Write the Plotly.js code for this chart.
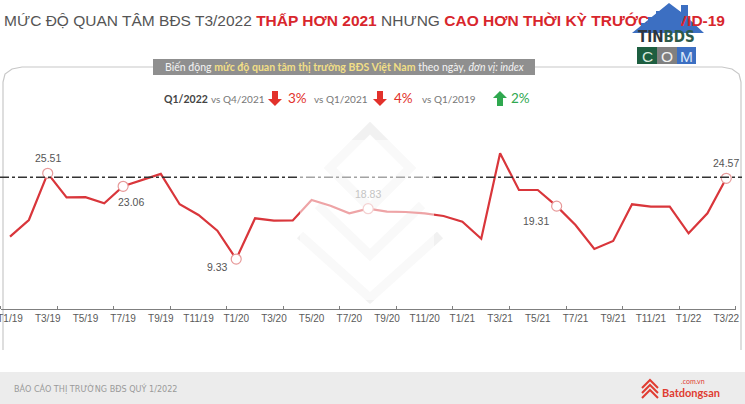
<!DOCTYPE html>
<html>
<head>
<meta charset="utf-8">
<script src="https://cdn.plot.ly/plotly-3.0.1.min.js"></script>
<style>html,body{margin:0;padding:0;background:#fff;}#chart{width:745px;height:404px;}</style>
</head>
<body>
<div id="chart"></div>
<script>
// ---- data ----
const months = ["T1/19","T2/19","T3/19","T4/19","T5/19","T6/19","T7/19","T8/19","T9/19","T10/19","T11/19","T12/19",
  "T1/20","T2/20","T3/20","T4/20","T5/20","T6/20","T7/20","T8/20","T9/20","T10/20","T11/20","T12/20",
  "T1/21","T2/21","T3/21","T4/21","T5/21","T6/21","T7/21","T8/21","T9/21","T10/21","T11/21","T12/21",
  "T1/22","T2/22","T3/22"];
const interestIndex = [13.55,16.70,25.51,20.98,21.00,19.85,23.06,24.20,25.40,19.66,17.64,14.68,
  9.33,17.02,16.57,16.60,20.47,19.40,17.96,18.83,18.27,18.21,17.96,17.45,
  16.38,13.17,29.28,22.36,22.36,19.31,15.76,11.23,12.74,19.66,19.21,19.21,
  14.19,17.96,24.57];
const labeledIdx = [2,6,12,19,29,38];
const benchmark = 24.76;
const compareLabels = ["vs Q4/2021","vs Q1/2021","vs Q1/2019"];
const compareValues = ["3%","4%","2%"];
const compareDirs = ["down","down","up"];

// ---- helpers ----
const W = 745, H = 404;
const px = x => x / W, py = y => 1 - y / H;
function pathStr(pts, close) {
  return pts.map((p, i) => (i ? "L" : "M") + px(p[0]).toFixed(5) + "," + py(p[1]).toFixed(5)).join(" ") + (close ? " Z" : "");
}
const RED = "#d9363b";
const BLUE = "#3c6fc2";
const xIdx = months.map((_, i) => i);
const tickIdx = xIdx.filter(i => i % 2 === 0);
const tickTxt = tickIdx.map(i => months[i]);

const traces = [
  {x: xIdx, y: interestIndex, type: "scatter", mode: "lines",
   line: {color: RED, width: 2.2}, hoverinfo: "skip", showlegend: false},
  {x: labeledIdx, y: labeledIdx.map(i => interestIndex[i]), type: "scatter", mode: "markers",
   marker: {size: 10, color: "#ffffff", line: {color: "#e79a9a", width: 1.2}}, hoverinfo: "skip", showlegend: false}
];

const shapes = [];
// watermark logo (light)
const wm = {type: "path", xref: "paper", yref: "paper", layer: "below", line: {color: "#f1f1f1", width: 9}};
shapes.push(Object.assign({}, wm, {path: pathStr([[330,168],[370,128],[410,168],[370,208]], true)}));
shapes.push(Object.assign({}, wm, {path: pathStr([[300,235],[370,298],[440,235]], false)}));
shapes.push(Object.assign({}, wm, {path: pathStr([[318,205],[370,255],[422,205]], false)}));
// frame
shapes.push({type: "path", xref: "paper", yref: "paper", layer: "below", line: {color: "#c8c8c8", width: 1.2},
  path: pathStr([[3,350],[3,82],[5,74],[12,69],[22,67],[722,67],[732,69],[739,74],[741,82],[741,350]], false)});
// subtitle box
shapes.push({type: "rect", xref: "paper", yref: "paper", layer: "below", x0: px(153), x1: px(535), y0: py(75), y1: py(59),
  fillcolor: "#8f8f8f", line: {width: 0}});
// benchmark line
shapes.push({type: "line", xref: "paper", yref: "y", x0: 0, x1: px(742), y0: benchmark, y1: benchmark, layer: "above",
  line: {color: "#333333", width: 1.5, dash: "dashdot"}});
// fade overlay (watermark)
shapes.push({type: "rect", xref: "paper", yref: "paper", layer: "above", x0: px(300), x1: px(434), y0: py(300), y1: py(140),
  fillcolor: "rgba(255,255,255,0.55)", line: {width: 0}});
// arrows
function arrow(cx, y0, y1, dir, color) {
  const sw = 3, hw = 7, hh = 7;
  let pts;
  if (dir === "down") pts = [[cx-sw,y0],[cx+sw,y0],[cx+sw,y1-hh],[cx+hw,y1-hh],[cx,y1],[cx-hw,y1-hh],[cx-sw,y1-hh]];
  else pts = [[cx-sw,y1],[cx+sw,y1],[cx+sw,y0+hh],[cx+hw,y0+hh],[cx,y0],[cx-hw,y0+hh],[cx-sw,y0+hh]];
  return {type: "path", xref: "paper", yref: "paper", layer: "above", fillcolor: color, line: {width: 0}, path: pathStr(pts, true)};
}
const arrowX = [275, 380, 500];
compareDirs.forEach((d, i) => shapes.push(arrow(arrowX[i], 91, 106, d, d === "down" ? "#e2312b" : "#2fa84f")));
// footer
shapes.push({type: "rect", xref: "paper", yref: "paper", layer: "below", x0: 0, x1: 1, y0: 0, y1: py(372),
  fillcolor: "#ececec", line: {width: 0}});
// footer logo icon
const fl = {type: "path", xref: "paper", yref: "paper", layer: "above", line: {color: "#e03c31", width: 2}};
shapes.push(Object.assign({}, fl, {path: pathStr([[642,388],[650,380],[658,388]], false)}));
shapes.push(Object.assign({}, fl, {path: pathStr([[642,393],[650,385],[658,393]], false)}));
shapes.push(Object.assign({}, fl, {path: pathStr([[642,398],[650,390],[658,398]], false)}));
// TinBDS logo
shapes.push({type: "path", xref: "paper", yref: "paper", layer: "above", fillcolor: BLUE, line: {width: 0},
  path: pathStr([[632,33],[669,3],[681,12],[681,5],[688,5],[688,18],[704,33]], true)});
shapes.push({type: "rect", xref: "paper", yref: "paper", layer: "above", x0: px(637), x1: px(657), y0: py(64), y1: py(47), fillcolor: "#1d5e40", line: {width: 0}});
shapes.push({type: "rect", xref: "paper", yref: "paper", layer: "above", x0: px(657), x1: px(677), y0: py(64), y1: py(47), fillcolor: "#808080", line: {width: 0}});
shapes.push({type: "rect", xref: "paper", yref: "paper", layer: "above", x0: px(677), x1: px(696), y0: py(64), y1: py(47), fillcolor: BLUE, line: {width: 0}});

const annotations = [];
const LATO = "Lato, Open Sans, sans-serif";
const NARROW = "DejaVu Sans Condensed, sans-serif";
// title
annotations.push({xref: "paper", yref: "paper", x: px(2), y: py(20), xanchor: "left", yanchor: "middle", showarrow: false,
  font: {family: "Liberation Sans, Arial, sans-serif", size: 15.5, color: "#555555"},
  text: 'MỨC ĐỘ QUAN TÂM BĐS T3/2022 <b><span style="color:#d8262c">THẤP HƠN 2021</span></b> NHƯNG <b><span style="color:#d8262c">CAO HƠN THỜI KỲ TRƯỚC COVID-19</span></b>'});
// roof parts overlapping the title (stair-stepped cover)
[[641, 681, 23, 29], [648, 681, 17, 23], [656, 680, 11, 17]].forEach(r => annotations.push({
  xref: "paper", yref: "paper", x: px(r[0]), y: py(r[3]), xanchor: "left", yanchor: "bottom", showarrow: false,
  text: " ", width: r[1] - r[0], height: r[3] - r[2], bgcolor: BLUE, borderpad: 0, borderwidth: 0}));
// subtitle
annotations.push({xref: "paper", yref: "paper", x: px(344), y: py(67), xanchor: "center", yanchor: "middle", showarrow: false,
  font: {family: LATO, size: 10.5, color: "#f4f4f4"},
  text: 'Biến động <b><span style="color:#f2df86">mức độ quan tâm thị trường BĐS Việt Nam</span></b> theo ngày, <i>đơn vị: index</i>'});
// comparison row
annotations.push({xref: "paper", yref: "paper", x: px(162), y: py(99), xanchor: "left", yanchor: "middle", showarrow: false,
  font: {family: LATO, size: 10.5, color: "#444444"}, text: '<b>Q1/2022</b>'});
const cmpX = [209, 312, 420];
const pctX = [286, 392, 509];
compareLabels.forEach((t, i) => {
  annotations.push({xref: "paper", yref: "paper", x: px(cmpX[i]), y: py(99), xanchor: "left", yanchor: "middle", showarrow: false,
    font: {family: LATO, size: 10, color: "#777777"}, text: t});
  annotations.push({xref: "paper", yref: "paper", x: px(pctX[i]), y: py(98), xanchor: "left", yanchor: "middle", showarrow: false,
    font: {family: LATO, size: 13.5, color: compareDirs[i] === "down" ? "#e2312b" : "#2fa84f"}, text: compareValues[i]});
});
// data labels
const lblShift = {2: [0, 15], 6: [8, -16], 12: [-19, -8], 19: [0, 15], 29: [-21, -15], 38: [0, 15]};
labeledIdx.forEach(i => {
  annotations.push({xref: "x", yref: "y", x: i, y: interestIndex[i], showarrow: false,
    xshift: lblShift[i][0], yshift: lblShift[i][1],
    font: {family: "Liberation Sans, Arial, sans-serif", size: 10.5, color: i === 19 ? "#c4c4c4" : "#555555"},
    text: interestIndex[i].toFixed(2)});
});
// TinBDS text
annotations.push({xref: "paper", yref: "paper", x: px(666), y: py(37), xanchor: "center", yanchor: "middle", showarrow: false,
  font: {family: NARROW, size: 15, color: "#2c3540"}, text: '<b>TIN<span style="color:#2d5a4a">BDS</span></b>'});
["C","O","M"].forEach((c, k) => annotations.push({xref: "paper", yref: "paper", x: px([647,667,686.5][k]), y: py(56.5), xanchor: "center", yanchor: "middle", showarrow: false,
  font: {family: "Liberation Sans, Arial, sans-serif", size: 15.5, color: ["#d8e8dc","#f2f2f2","#dde8fa"][k]}, text: c}));
// footer text
annotations.push({xref: "paper", yref: "paper", x: px(12), y: py(389), xanchor: "left", yanchor: "middle", showarrow: false,
  font: {family: NARROW, size: 9, color: "#9a9a9a"}, text: "BÁO CÁO THỊ TRƯỜNG BĐS QUÝ 1/2022"});
annotations.push({xref: "paper", yref: "paper", x: px(660), y: py(392), xanchor: "left", yanchor: "middle", showarrow: false,
  font: {family: LATO, size: 11, color: "#e03c31"}, text: "<b>Batdongsan</b>"});
annotations.push({xref: "paper", yref: "paper", x: px(707), y: py(381), xanchor: "right", yanchor: "middle", showarrow: false,
  font: {family: LATO, size: 7, color: "#e03c31"}, text: ".com.vn"});

const layout = {
  width: W, height: H,
  margin: {l: 0, r: 0, t: 0, b: 0, pad: 0},
  paper_bgcolor: "#ffffff", plot_bgcolor: "rgba(0,0,0,0)",
  showlegend: false,
  xaxis: {domain: [0.6 / W, 735.7 / W], range: [-0.5, 38.5], tickmode: "array", tickvals: tickIdx, ticktext: tickTxt,
    ticks: "", showgrid: false, zeroline: false, showline: true, linecolor: "#7f7f7f", linewidth: 1,
    ticklabeloverflow: "allow",
    tickfont: {family: "Liberation Sans, Arial, sans-serif", size: 10, color: "#5a5a5a"},
    minor: {tickmode: "linear", tick0: -0.5, dtick: 3, ticks: "inside", ticklen: 3, tickcolor: "#7f7f7f", tickwidth: 1, showgrid: false},
    fixedrange: true},
  yaxis: {domain: [1 - 308.5 / H, 1 - 138.9 / H], range: [0, 32], visible: false, fixedrange: true},
  shapes: shapes,
  annotations: annotations
};
Plotly.newPlot("chart", traces, layout, {staticPlot: true, displayModeBar: false});
</script>
</body>
</html>
